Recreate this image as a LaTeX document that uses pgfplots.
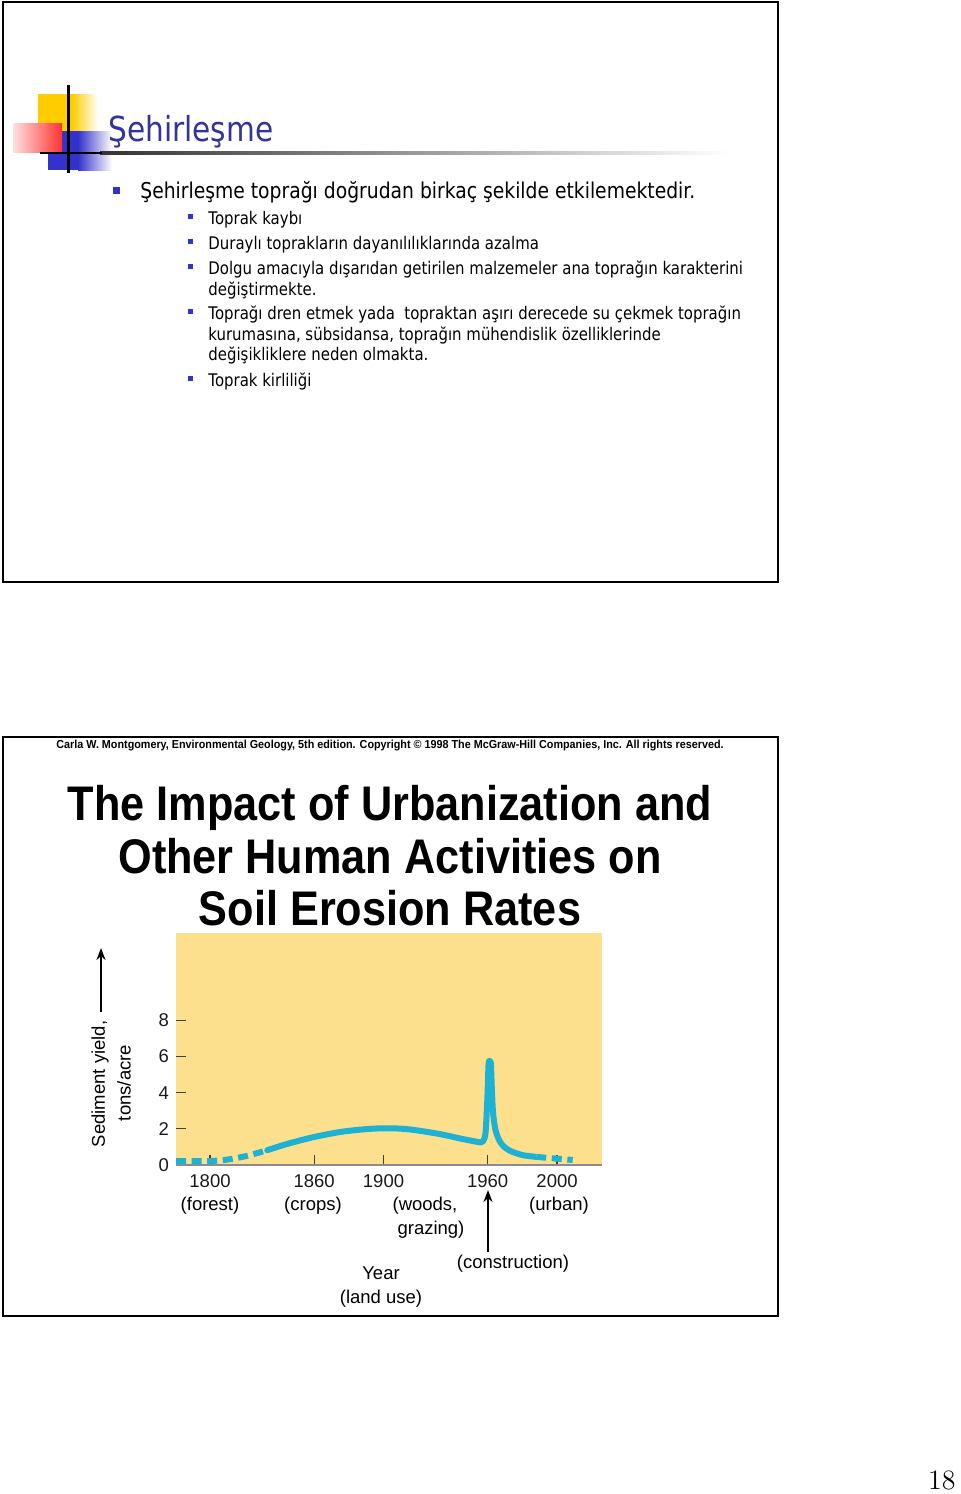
\documentclass[border=0pt]{standalone}
\usepackage{pgfplots}
\pgfplotsset{compat=1.18}
\usetikzlibrary{arrows.meta}
\usepackage{fontspec}
\usepackage{graphicx}
\newfontfamily\tahoma[FakeStretch=0.86]{DejaVu Sans}
\newfontfamily\helv{Liberation Sans}
\definecolor{plotyellow}{HTML}{FDE08E}
\definecolor{curveblue}{HTML}{1DB1D3}
\definecolor{titleblue}{HTML}{333399}
\definecolor{bulletblue}{HTML}{3333CC}
\definecolor{logoyellow}{HTML}{FFCC00}
\definecolor{logored}{HTML}{FF3333}
\definecolor{logoblue}{HTML}{3333CC}
\newcommand\chartfont{\helv\fontsize{9.25pt}{11pt}\selectfont}
\newcommand\subfont{\tahoma\fontsize{8.69pt}{10.5pt}\selectfont}
\begin{document}
\begin{tikzpicture}[x=0.5pt,y=-0.5pt]
\path[use as bounding box] (0,0) rectangle (960,1494);
% ---------- slide 1 ----------
\draw[line width=1pt] (3,2) rectangle (778,582);
% logo
\fill[logoyellow] (38,94) rectangle (72,140);
\shade[left color=logoyellow, right color=white] (72,94) rectangle (98,140);
\fill[logoblue] (48,131) rectangle (78,170);
\shade[left color=logoblue, right color=white] (78,131) rectangle (112,170);
\shade[left color=red!12, right color=logored] (13,123) rectangle (62,152);
\shade[left color=black!80, right color=white] (100,151.8) rectangle (730,154.4);
\draw[line width=1.3pt] (40,153) -- (102,153);
\draw[line width=1.5pt] (68,85) -- (68,173);
\node[anchor=base west, inner sep=0, text=titleblue, font=\tahoma\fontsize{17.2pt}{20pt}\selectfont] at (108,141) {Şehirleşme};
% main bullet
\fill[bulletblue] (113,187) rectangle (120,194);
\node[anchor=base west, inner sep=0, font=\tahoma\fontsize{10.9pt}{14pt}\selectfont] at (140,198) {Şehirleşme toprağı doğrudan birkaç şekilde etkilemektedir.};
% sub bullets
\foreach \b in {224,249,274,319,386} {\fill[bulletblue] (188,\b-10) rectangle (193,\b-5);}
\node[anchor=base west, inner sep=0, font=\subfont] at (208,224) {Toprak kaybı};
\node[anchor=base west, inner sep=0, font=\subfont] at (208,249) {Duraylı toprakların dayanılılıklarında azalma};
\node[anchor=base west, inner sep=0, font=\subfont] at (208,274) {Dolgu amacıyla dışarıdan getirilen malzemeler ana toprağın karakterini};
\node[anchor=base west, inner sep=0, font=\subfont] at (208,295) {değiştirmekte.};
\node[anchor=base west, inner sep=0, font=\subfont] at (208,319) {Toprağı dren etmek yada~ topraktan aşırı derecede su çekmek toprağın};
\node[anchor=base west, inner sep=0, font=\subfont] at (208,340) {kurumasına, sübsidansa, toprağın mühendislik özelliklerinde};
\node[anchor=base west, inner sep=0, font=\subfont] at (208,360) {değişikliklere neden olmakta.};
\node[anchor=base west, inner sep=0, font=\subfont] at (208,386) {Toprak kirliliği};
% ---------- slide 2 ----------
\draw[line width=1pt] (3,737) rectangle (778,1316);
\node[anchor=base, inner sep=0, font=\helv\bfseries\fontsize{5.8pt}{6pt}\selectfont] at (390,748) {\scalebox{0.93}[1]{Carla W. Montgomery, Environmental Geology, 5th edition. Copyright © 1998 The McGraw-Hill Companies, Inc. All rights reserved.}};
\node[anchor=base, inner sep=0, font=\helv\bfseries\fontsize{24.3pt}{28pt}\selectfont] at (390,820) {\scalebox{0.89}[1]{The Impact of Urbanization and}};
\node[anchor=base, inner sep=0, font=\helv\bfseries\fontsize{24.3pt}{28pt}\selectfont] at (390,873) {\scalebox{0.89}[1]{Other Human Activities on}};
\node[anchor=base, inner sep=0, font=\helv\bfseries\fontsize{24.3pt}{28pt}\selectfont] at (390,925) {\scalebox{0.89}[1]{Soil Erosion Rates}};
% chart
\begin{axis}[
  at={(88pt,-582.5pt)}, anchor=south west,
  scale only axis, width=213pt, height=116pt,
  xmin=1780.4, xmax=2025.9, ymin=0, ymax=12.83,
  axis background/.style={fill=plotyellow},
  axis x line*=bottom, axis y line*=left,
  x axis line style={draw=black!45, line width=1pt},
  y axis line style={draw=none},
  xtick={1800,1860,1900,1960,2000},
  xticklabels={1800,1860,1900,1960,2000},
  ytick={0,2,4,6,8},
  yticklabels={0,2,4,6,8},
  tick align=inside,
  major tick length=5pt,
  tick style={black!75, line width=0.6pt},
  ticklabel style={font=\chartfont, text=black!90},
  xticklabel style={yshift=-1pt},
  clip=false,
  curve/.style={color=curveblue, line width=3pt},
]
\addplot[curve, dash pattern=on 5pt off 2.8pt, smooth] coordinates {
 (1780.4,0.22) (1790,0.22) (1800,0.22) (1810,0.3) (1821,0.5) (1833,0.82)};
\addplot[curve, smooth, line cap=round] coordinates {
 (1833,0.82) (1845,1.18) (1860,1.55) (1876,1.84) (1892,2.0) (1904,2.03)
 (1915,1.97) (1932,1.72) (1944,1.47) (1955.6,1.25)};
\addplot[curve, smooth, tension=0.45, line join=round] coordinates {
 (1955.6,1.25) (1957.5,1.33) (1958.8,1.8) (1959.8,3.6) (1960.5,5.55) (1961.2,5.75)
 (1961.9,5.55) (1962.5,4.0) (1963.2,2.8) (1964.5,1.95) (1966.5,1.4) (1969,1.05)
 (1973,0.78) (1980,0.55) (1988,0.45)};
\addplot[curve, dash pattern=on 5pt off 2.8pt, smooth] coordinates {
 (1988,0.45) (2000,0.35) (2009,0.28)};
\end{axis}
% chart annotations
\node[rotate=90, font=\chartfont] at (100,1084) {Sediment yield,};
\node[rotate=90, font=\chartfont] at (124,1083) {tons/acre};
\draw[-{Stealth[length=6pt,width=4.5pt]}, line width=1pt] (101,1012) -- (101,948);
\node[anchor=base, inner sep=0, font=\chartfont] at (210,1210) {(forest)};
\node[anchor=base, inner sep=0, font=\chartfont] at (313,1210) {(crops)};
\node[anchor=base, inner sep=0, font=\chartfont] at (425,1210) {(woods,};
\node[anchor=base, inner sep=0, font=\chartfont] at (431,1234) {grazing)};
\node[anchor=base, inner sep=0, font=\chartfont] at (559,1210) {(urban)};
\draw[-{Stealth[length=6pt,width=4.5pt]}, line width=1pt] (488,1252) -- (488,1190);
\node[anchor=base, inner sep=0, font=\chartfont] at (513,1268) {(construction)};
\node[anchor=base, inner sep=0, font=\chartfont] at (381,1279) {Year};
\node[anchor=base, inner sep=0, font=\chartfont] at (381,1303) {(land use)};
% page number
\node[anchor=base east, inner sep=0, font=\fontsize{14pt}{16pt}\selectfont] at (956,1489) {18};
\end{tikzpicture}
\end{document}
